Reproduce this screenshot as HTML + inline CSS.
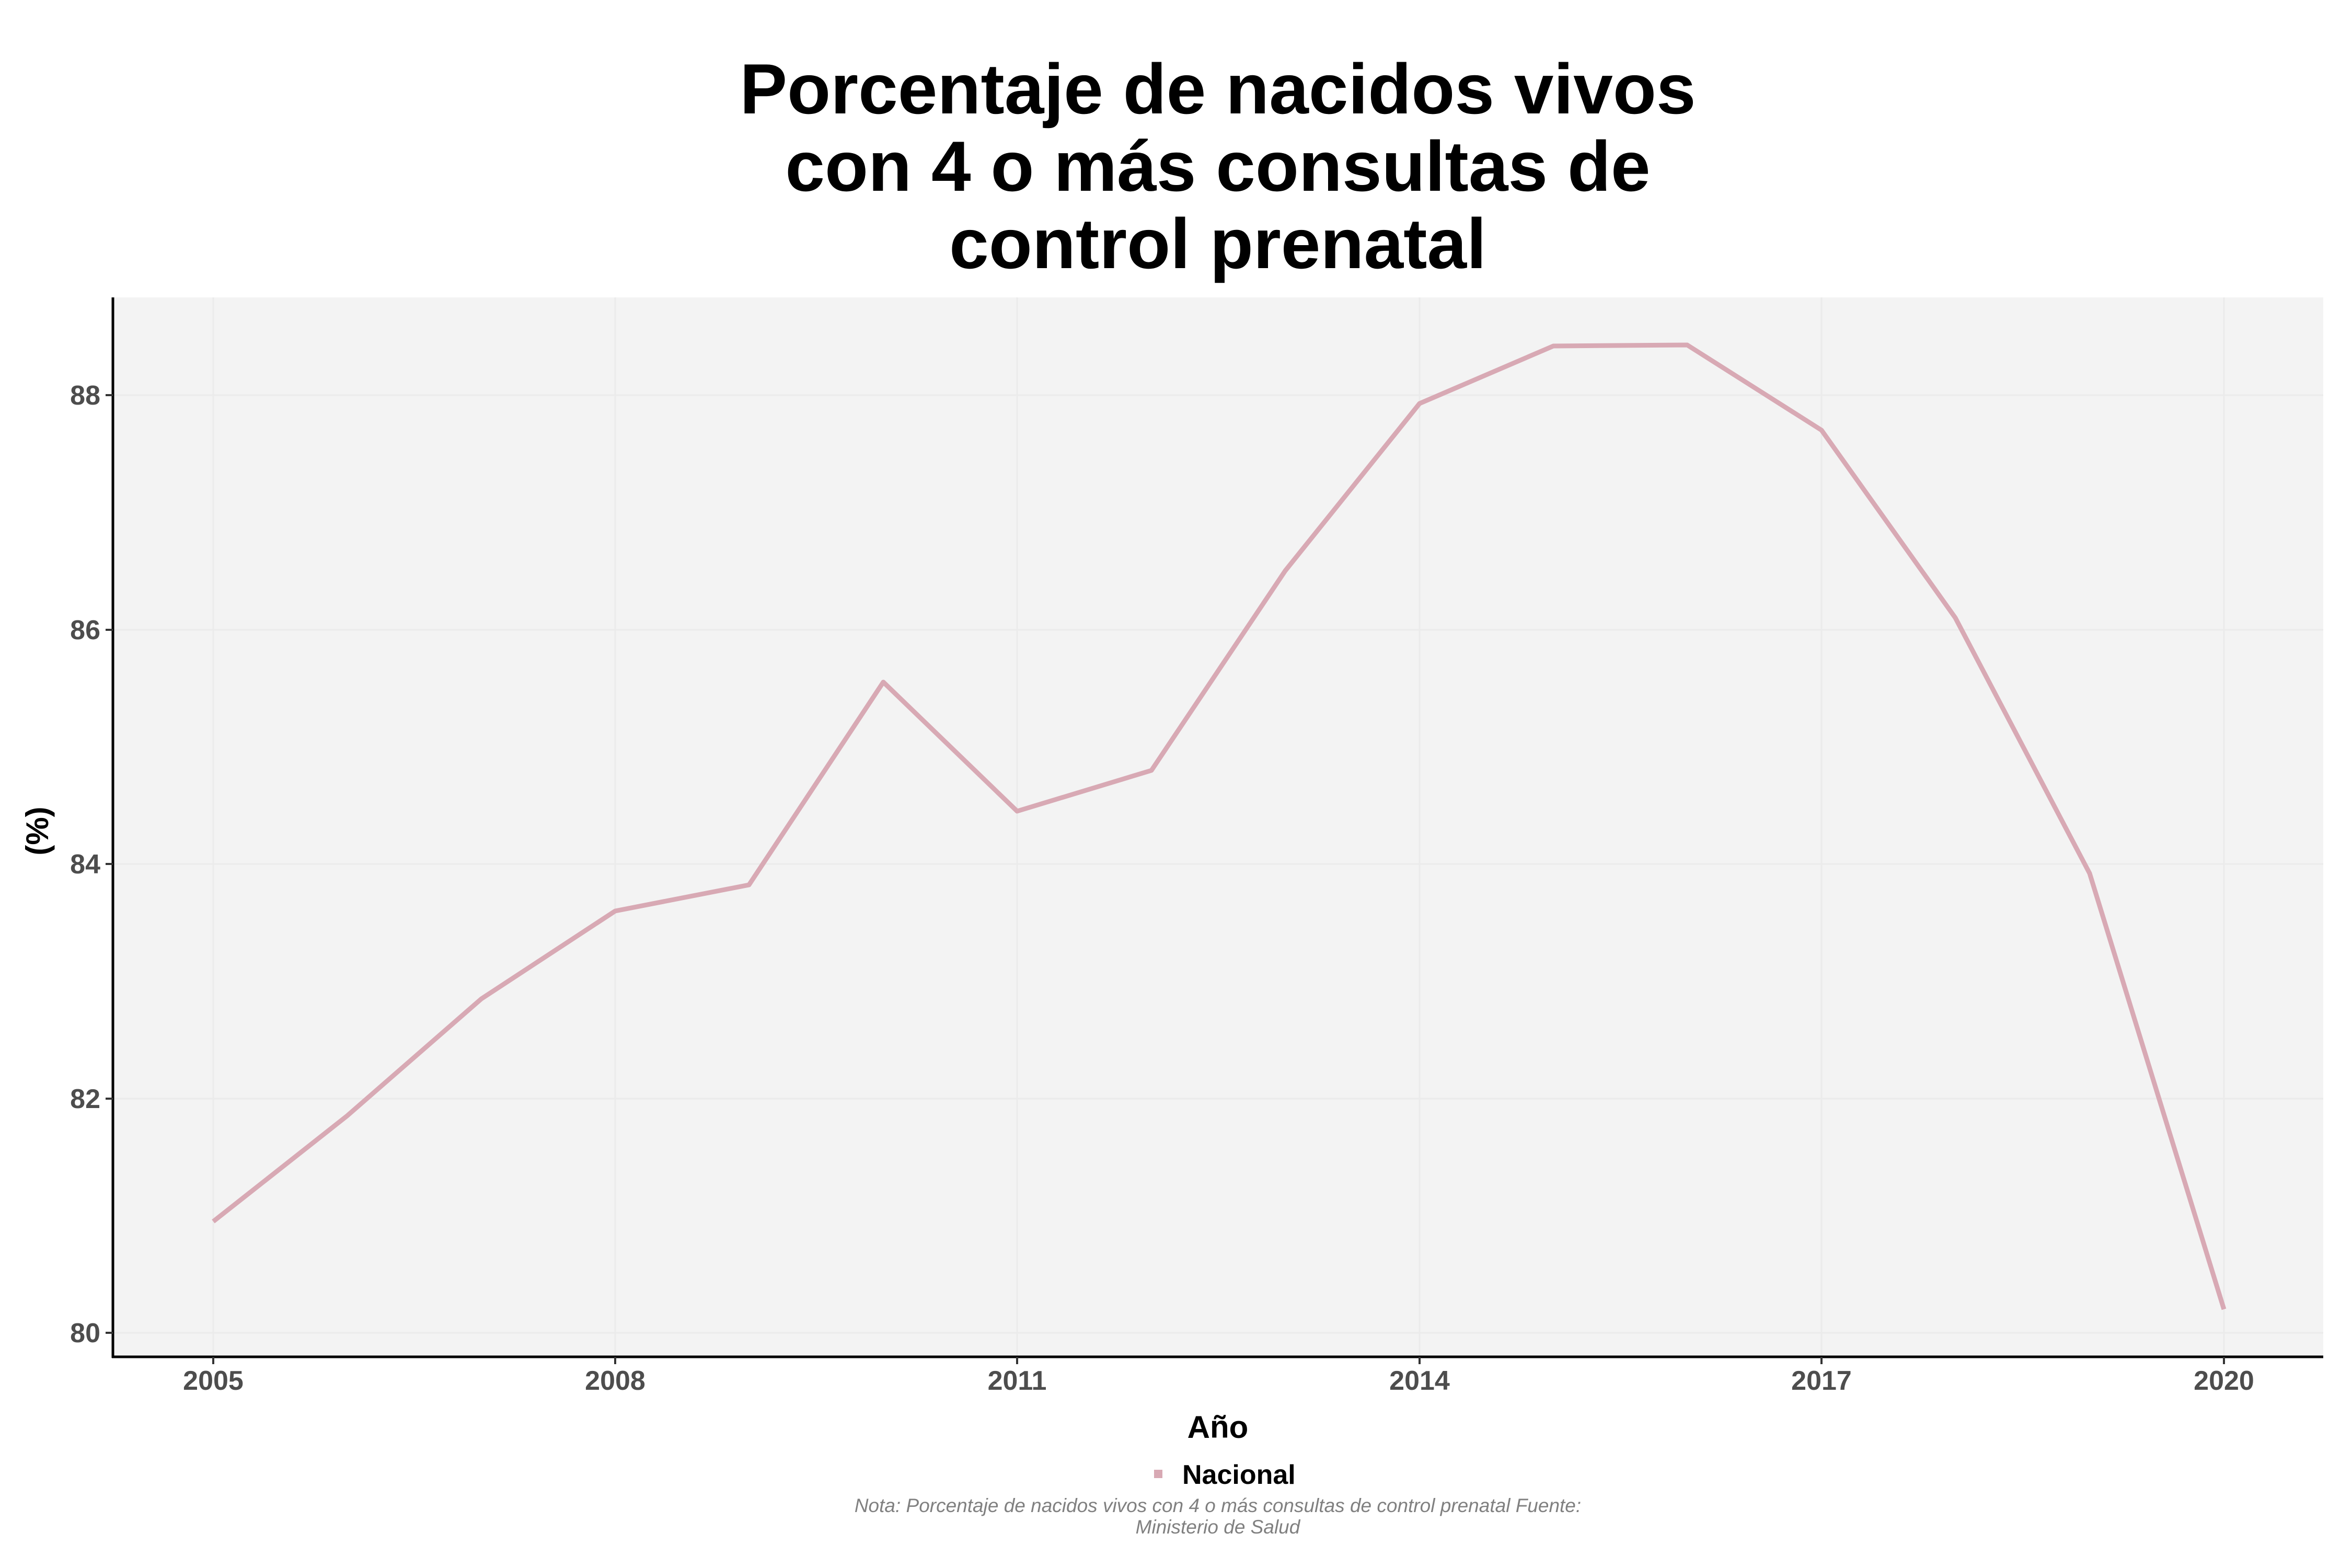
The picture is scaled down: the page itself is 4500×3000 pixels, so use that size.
<!DOCTYPE html>
<html><head><meta charset="utf-8"><style>
html,body{margin:0;padding:0;background:#fff;}
svg{display:block;}
text{font-family:"Liberation Sans",Arial,sans-serif;}
</style></head><body>
<svg width="4500" height="3000" viewBox="0 0 4500 3000" xmlns="http://www.w3.org/2000/svg">
<rect x="0" y="0" width="4500" height="3000" fill="#fff"/>
<g font-weight="bold" font-size="136" text-anchor="middle" fill="#000">
<text x="2330" y="217">Porcentaje de nacidos vivos</text>
<text x="2330" y="365">con 4 o más consultas de</text>
<text x="2330" y="513">control prenatal</text>
</g>
<rect x="216" y="569" width="4229" height="2027" fill="#f3f3f3"/>
<g stroke="#ebebeb" stroke-width="3">
<line x1="216" x2="4445" y1="756" y2="756"/>
<line x1="216" x2="4445" y1="1205" y2="1205"/>
<line x1="216" x2="4445" y1="1653" y2="1653"/>
<line x1="216" x2="4445" y1="2102" y2="2102"/>
<line x1="216" x2="4445" y1="2550" y2="2550"/>
<line y1="569" y2="2596" x1="408" x2="408"/>
<line y1="569" y2="2596" x1="1177" x2="1177"/>
<line y1="569" y2="2596" x1="1946" x2="1946"/>
<line y1="569" y2="2596" x1="2716" x2="2716"/>
<line y1="569" y2="2596" x1="3485" x2="3485"/>
<line y1="569" y2="2596" x1="4255" x2="4255"/>
</g>
<polyline fill="none" stroke="#d8a9b4" stroke-width="9" stroke-linejoin="round" points="408,2337 664,2135 921,1911 1177,1743 1433,1693 1690,1305 1946,1552 2203,1474 2459,1092 2716,772 2972,662 3228,660 3485,823 3741,1182 3998,1671 4255,2505"/>
<line x1="216" y1="569" x2="216" y2="2598" stroke="#000" stroke-width="5"/>
<line x1="214" y1="2596" x2="4445" y2="2596" stroke="#000" stroke-width="5"/>
<g stroke="#333" stroke-width="4">
<line x1="202" x2="216" y1="756" y2="756"/><line x1="202" x2="216" y1="1205" y2="1205"/>
<line x1="202" x2="216" y1="1653" y2="1653"/><line x1="202" x2="216" y1="2102" y2="2102"/>
<line x1="202" x2="216" y1="2550" y2="2550"/>
<line y1="2596" y2="2610" x1="408" x2="408"/><line y1="2596" y2="2610" x1="1177" x2="1177"/>
<line y1="2596" y2="2610" x1="1946" x2="1946"/><line y1="2596" y2="2610" x1="2716" x2="2716"/>
<line y1="2596" y2="2610" x1="3485" x2="3485"/><line y1="2596" y2="2610" x1="4255" x2="4255"/>
</g>
<g font-weight="bold" font-size="52" fill="#4d4d4d" text-anchor="end">
<text x="192" y="774">88</text><text x="192" y="1223">86</text><text x="192" y="1671">84</text>
<text x="192" y="2120">82</text><text x="192" y="2568">80</text>
</g>
<g font-weight="bold" font-size="52" fill="#4d4d4d" text-anchor="middle">
<text x="408" y="2659">2005</text><text x="1177" y="2659">2008</text><text x="1946" y="2659">2011</text>
<text x="2716" y="2659">2014</text><text x="3485" y="2659">2017</text><text x="4255" y="2659">2020</text>
</g>
<text x="2330" y="2751" font-weight="bold" font-size="60" text-anchor="middle">Año</text>
<text transform="translate(92,1590) rotate(-90)" font-weight="bold" font-size="60" text-anchor="middle">(%)</text>
<rect x="2208" y="2812" width="16" height="16" fill="#d8a9b4"/>
<text x="2262" y="2839" font-weight="bold" font-size="52">Nacional</text>
<g font-style="italic" font-size="37" fill="#808080" text-anchor="middle">
<text x="2330" y="2893">Nota: Porcentaje de nacidos vivos con 4 o más consultas de control prenatal Fuente:</text>
<text x="2330" y="2934">Ministerio de Salud</text>
</g>
</svg>
</body></html>
